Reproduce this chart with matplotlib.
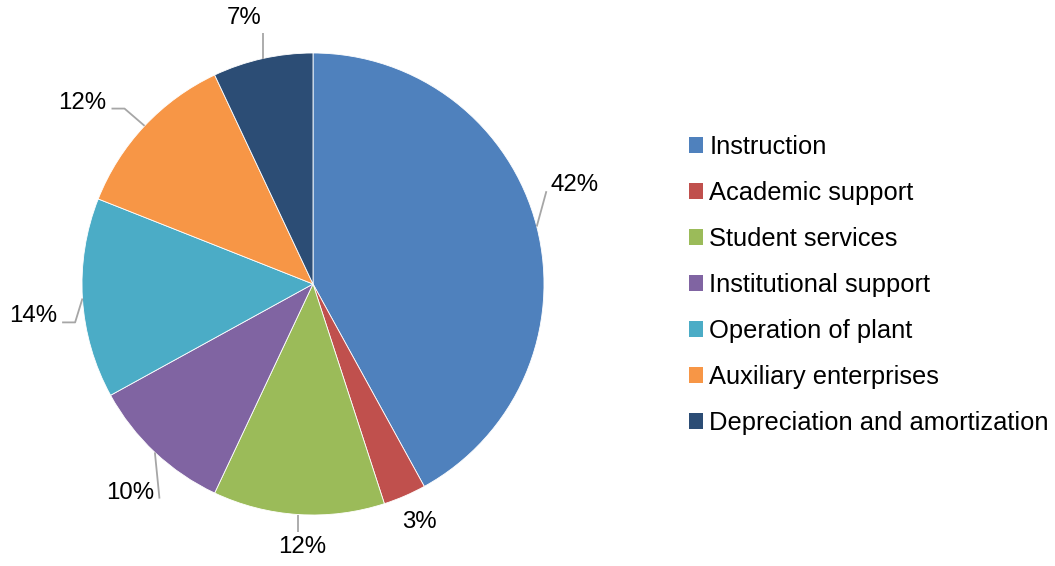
import numpy as np
import matplotlib.pyplot as plt
from matplotlib.patches import Patch

plt.rcParams['font.family'] = ['Liberation Sans', 'DejaVu Sans']

# expense categories and their share (%)
categories = ['Instruction', 'Academic support', 'Student services',
              'Institutional support', 'Operation of plant',
              'Auxiliary enterprises', 'Depreciation and amortization']
shares = [42, 3, 12, 10, 14, 12, 7]
colors = ['#4F81BD', '#C0504D', '#9BBB59', '#8064A2', '#4BACC6',
          '#F79646', '#2C4D75']

# label layout: distance from centre (in radii) and angular nudge (deg)
label_r = [1.21, 1.13, 1.14, 1.20, 1.22, 1.27, 1.19]
label_nudge = [6.3, 0.6, 1.2, 2.0, 3.0, 5.0, 1.9]

W, H = 1055, 566
cx, cy, R = 313, 284, 231

fig = plt.figure(figsize=(W / 100, H / 100), dpi=100)
ax = fig.add_axes([0, 0, 1, 1])

wedges, _ = ax.pie(shares, colors=colors, startangle=90, counterclock=False,
                   radius=1.0, center=(0, 0), frame=True,
                   wedgeprops=dict(linewidth=0.6, edgecolor='white'))
ax.set_xlim(-cx / R, (W - cx) / R)
ax.set_ylim(-(H - cy) / R, cy / R)
ax.set_aspect('auto')
ax.axis('off')

texts = []
for w, s, r, nd in zip(wedges, shares, label_r, label_nudge):
    ang = np.deg2rad((w.theta1 + w.theta2) / 2 + nd)
    t = ax.text(r * np.cos(ang), r * np.sin(ang), f'{s}%', ha='center',
                va='center', fontsize=17.3, color='black')
    texts.append(t)

# leader lines from the slice edge to the label
fig.canvas.draw()
inv = ax.transData.inverted()
for w, t in zip(wedges, texts):
    mid = np.deg2rad((w.theta1 + w.theta2) / 2)
    c, sn = np.cos(mid), np.sin(mid)
    ex, ey = ax.transData.transform((c, sn))
    bb = t.get_window_extent()
    if abs(c) > 0.5:
        if c < 0:
            axp, ayp, d = bb.x1 + 5, bb.y0 + 5, 1
        else:
            axp, ayp, d = bb.x0 - 4, bb.y0 + 5, -1
        pts = [(axp, ayp)]
        if (ex - axp) * d > 13:
            pts.append((axp + 13 * d, ayp))
        pts.append((ex, ey))
    else:
        px = min(max(ex, bb.x0 - 4), bb.x1 + 4)
        py = min(max(ey, bb.y0 - 4), bb.y1 + 4)
        if np.hypot(px - ex, py - ey) < 13:
            continue
        pts = [(px, py), (ex, ey)]
    dpts = inv.transform(pts)
    ax.plot(dpts[:, 0], dpts[:, 1], color='#A6A6A6', lw=1.3, solid_capstyle='butt')

handles = [Patch(facecolor=col, edgecolor='none') for col in colors]
fig.legend(handles, categories, loc='center left',
           bbox_to_anchor=(689 / W, 1 - 285 / H), borderaxespad=0,
           frameon=False, fontsize=18.4, handlelength=0.55, handleheight=0.55,
           handletextpad=0.24, labelspacing=0.86, borderpad=0)

fig.savefig('out.png', dpi=100)
